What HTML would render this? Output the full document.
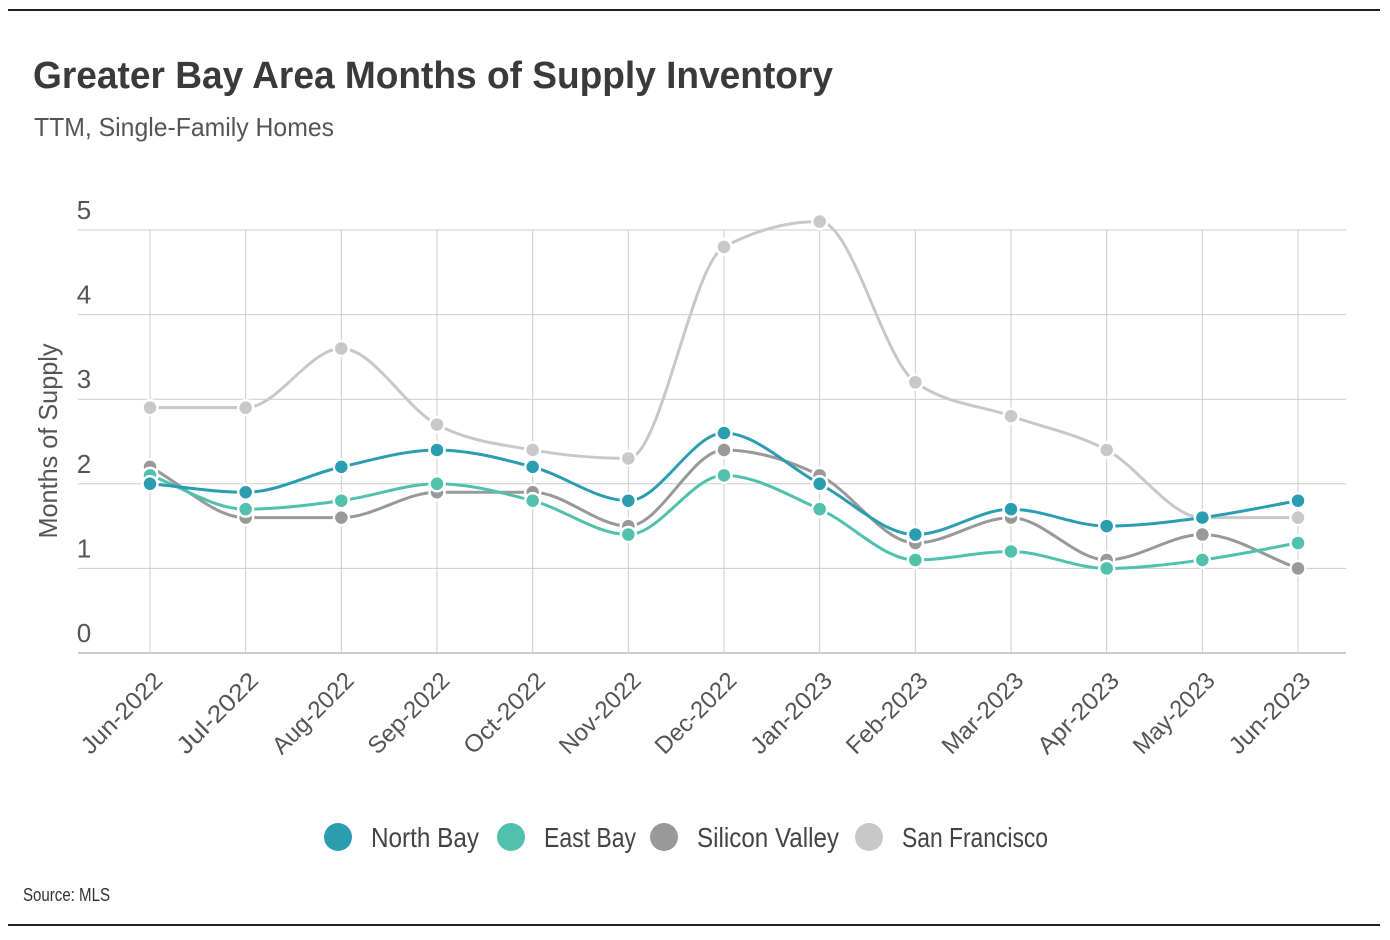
<!DOCTYPE html>
<html><head><meta charset="utf-8"><style>
body{margin:0;background:#fff;font-family:"Liberation Sans",sans-serif;}
svg{display:block}
</style></head><body>
<svg id="c" width="1390" height="940"></svg>
<script>
const categories=["Jun-2022","Jul-2022","Aug-2022","Sep-2022","Oct-2022","Nov-2022","Dec-2022","Jan-2023","Feb-2023","Mar-2023","Apr-2023","May-2023","Jun-2023"];
const northBay=[2.0,1.9,2.2,2.4,2.2,1.8,2.6,2.0,1.4,1.7,1.5,1.6,1.8];
const eastBay=[2.1,1.7,1.8,2.0,1.8,1.4,2.1,1.7,1.1,1.2,1.0,1.1,1.3];
const siliconValley=[2.2,1.6,1.6,1.9,1.9,1.5,2.4,2.1,1.3,1.6,1.1,1.4,1.0];
const sanFrancisco=[2.9,2.9,3.6,2.7,2.4,2.3,4.8,5.1,3.2,2.8,2.4,1.6,1.6];
const yTicks=[0,1,2,3,4,5];
const seriesNames=["North Bay","East Bay","Silicon Valley","San Francisco"];

const NS="http://www.w3.org/2000/svg";
const svg=document.getElementById('c');
function el(t,a,p){const e=document.createElementNS(NS,t);for(const k in a)e.setAttribute(k,a[k]);(p||svg).appendChild(e);return e;}
const x=i=>150+i*(1298-150)/(categories.length-1);
const y=v=>653-v*84.6;

let e;
e=el('line',{x1:8,x2:1380,y1:10,y2:10,stroke:'#222','stroke-width':2});

e=el('line',{x1:8,x2:1380,y1:925,y2:925,stroke:'#222','stroke-width':2});

e=el('text',{x:33,y:88,'font-size':38,'font-weight':'bold',fill:'#3a3a3a',textLength:800,lengthAdjust:'spacingAndGlyphs'});e.textContent='Greater Bay Area Months of Supply Inventory';

e=el('text',{x:34,y:136,'font-size':26,fill:'#555',textLength:300,lengthAdjust:'spacingAndGlyphs'});e.textContent='TTM, Single-Family Homes';


yTicks.forEach(t=>{
  e=el('line',{x1:78,x2:1346,y1:y(t),y2:y(t),stroke:t===0?'#999':'#ccc','stroke-width':1});
  
  e=el('text',{x:84,y:y(t)-11,'font-size':26,fill:'#555','text-anchor':'middle'});e.textContent=t;
  
});
categories.forEach((c,i)=>{
  e=el('line',{x1:x(i),x2:x(i),y1:230,y2:653,stroke:'#ccc','stroke-width':1});
  
  e=el('text',{x:0,y:0,'font-size':24,fill:'#555','text-anchor':'end',transform:`translate(${x(i)+14},${682}) rotate(-45)`,textLength:104,lengthAdjust:'spacingAndGlyphs'});e.textContent=c;
  
});
e=el('text',{x:0,y:0,'font-size':26,fill:'#555','text-anchor':'middle',transform:'translate(57,441) rotate(-90)',textLength:195,lengthAdjust:'spacingAndGlyphs'});e.textContent='Months of Supply';


function monotone(pts){
  const n=pts.length,dx=[],s=[],m=[];
  for(let i=0;i<n-1;i++){dx[i]=pts[i+1][0]-pts[i][0];s[i]=(pts[i+1][1]-pts[i][1])/dx[i];}
  for(let i=0;i<n;i++){
    if(i===0)m[i]=s[0];else if(i===n-1)m[i]=s[n-2];
    else if(s[i-1]*s[i]<=0)m[i]=0;
    else{const p=(s[i-1]*dx[i]+s[i]*dx[i-1])/(dx[i-1]+dx[i]);
      m[i]=(Math.sign(s[i-1])+Math.sign(s[i]))*Math.min(Math.abs(s[i-1]),Math.abs(s[i]),0.5*Math.abs(p));}
  }
  let d=`M${pts[0][0]},${pts[0][1]}`;
  for(let i=0;i<n-1;i++){
    const h=dx[i]/3;
    d+=` C${pts[i][0]+h},${pts[i][1]+m[i]*h} ${pts[i+1][0]-h},${pts[i+1][1]-m[i+1]*h} ${pts[i+1][0]},${pts[i+1][1]}`;
  }
  return d;
}
const series=[[sanFrancisco,'#c8c8c8','san-francisco'],[siliconValley,'#999999','silicon-valley'],[eastBay,'#4fc1ad','east-bay'],[northBay,'#2a9db0','north-bay']];
series.forEach(([vals,col,nm])=>{
  const g=el('g',{});
  
  const pts=vals.map((v,i)=>[x(i),y(v)]);
  const p=el('path',{d:monotone(pts),fill:'none',stroke:col,'stroke-width':3},g);
  
  pts.forEach(q=>{
    const c=el('circle',{cx:q[0],cy:q[1],r:7.5,fill:col,stroke:'#fff','stroke-width':2.5},g);
    
  });
});
const legCols=['#2a9db0','#4fc1ad','#999999','#c8c8c8'];
const legX=[338,511,664,869];
const legW=[108,92,142,146];
seriesNames.forEach((n,i)=>{
  const g=el('g',{});
  
  el('circle',{cx:legX[i],cy:837,r:14,fill:legCols[i]},g);
  const t=el('text',{x:legX[i]+33,y:847,'font-size':28,fill:'#444',textLength:legW[i],lengthAdjust:'spacingAndGlyphs'},g);t.textContent=n;
});
e=el('text',{x:23,y:901,'font-size':18,fill:'#333',textLength:87,lengthAdjust:'spacingAndGlyphs'});e.textContent='Source:  MLS';

</script>
</body></html>
